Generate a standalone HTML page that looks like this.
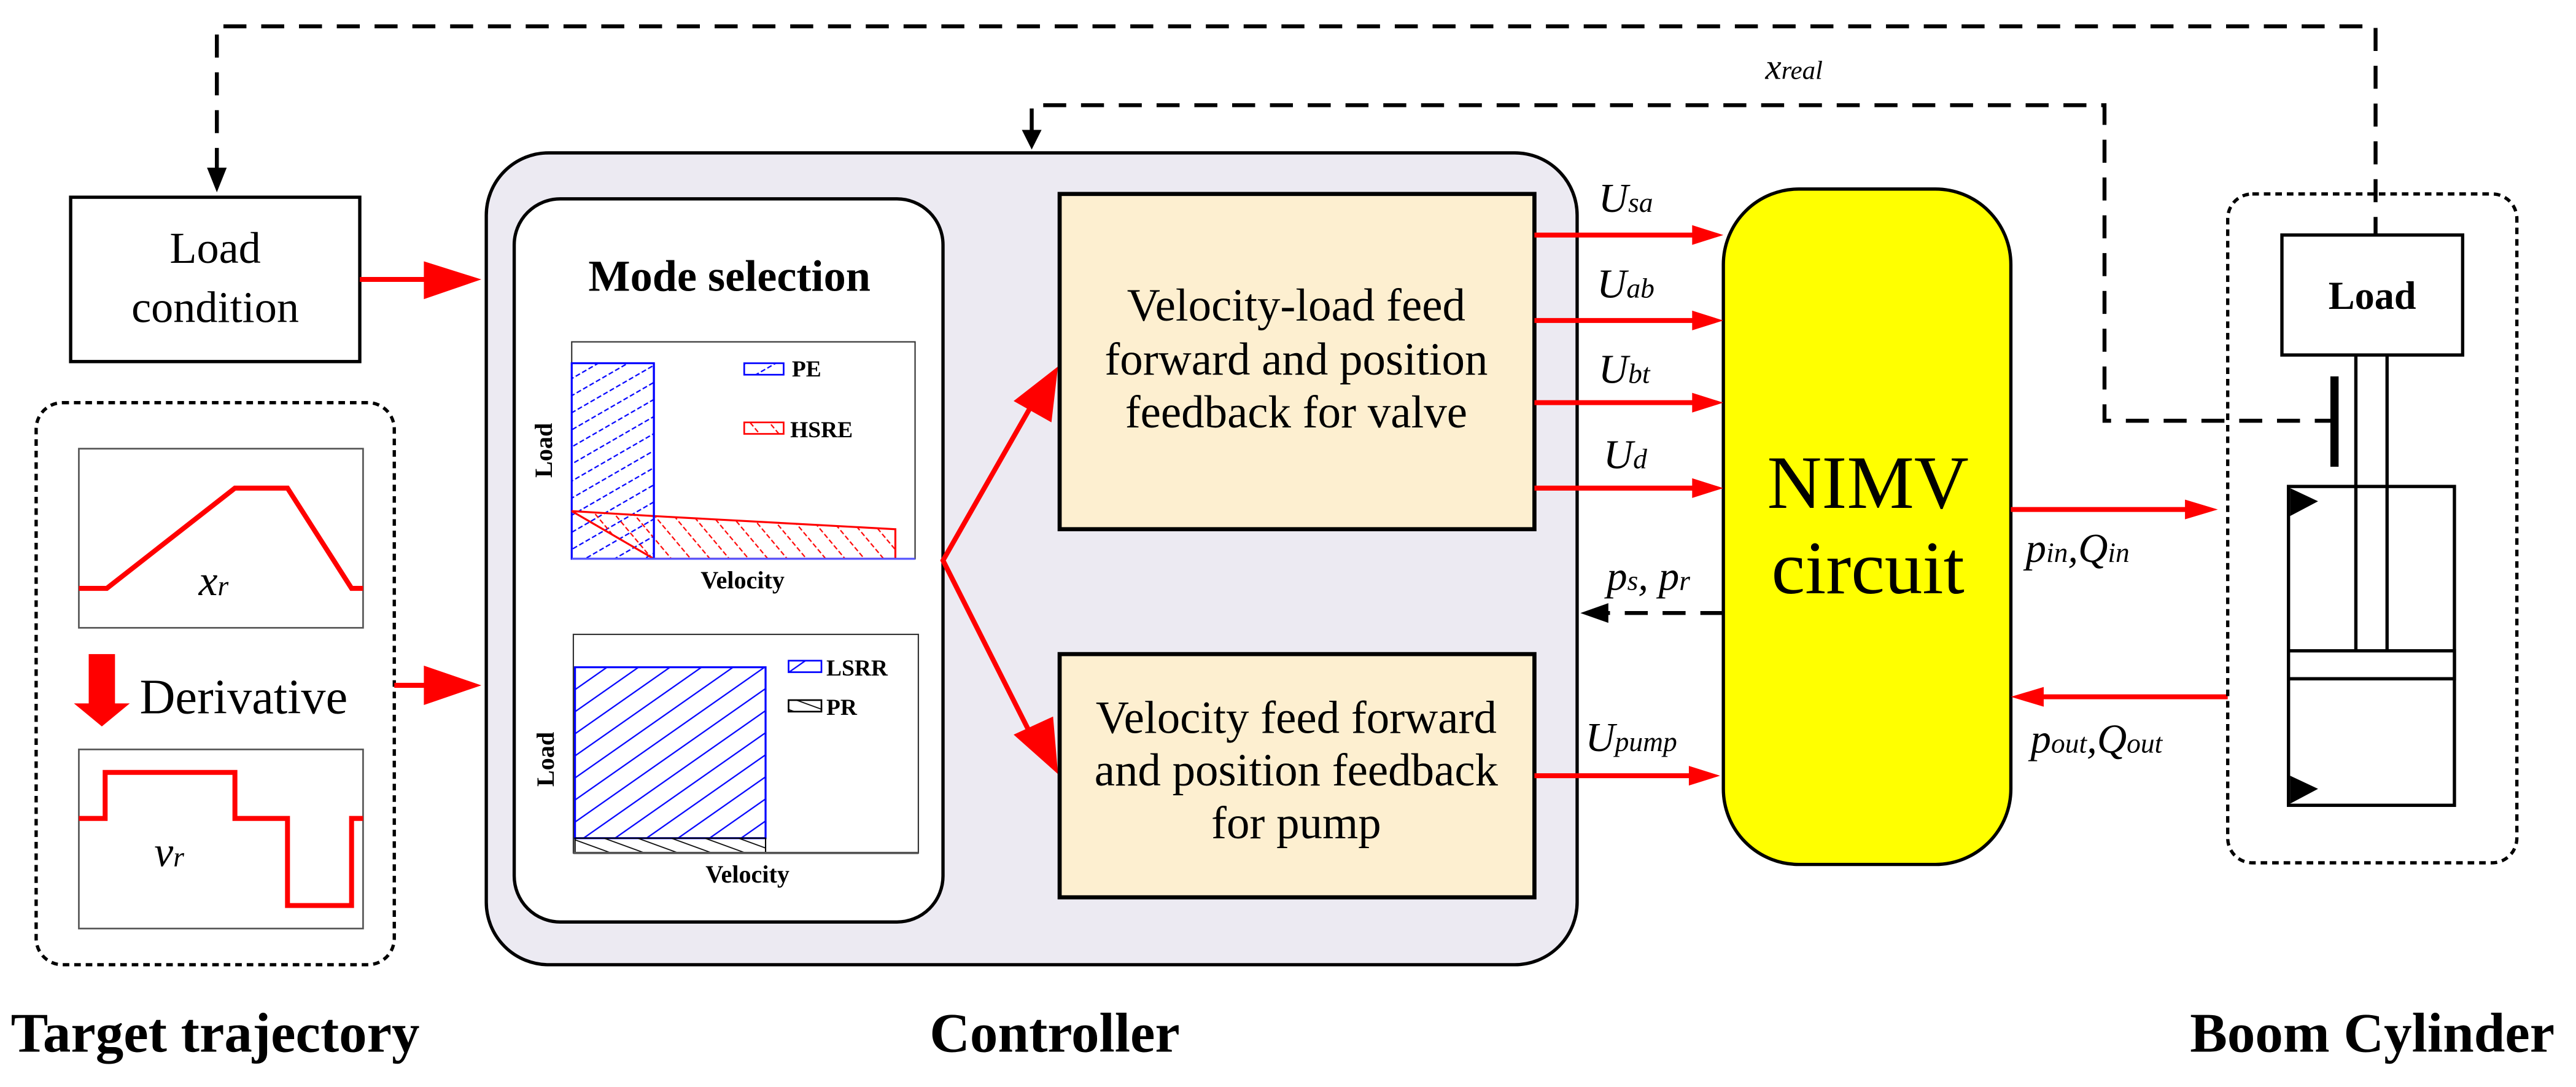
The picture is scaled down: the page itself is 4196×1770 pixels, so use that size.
<!DOCTYPE html>
<html><head><meta charset="utf-8"><style>
html,body{margin:0;padding:0;background:#fff;overflow:hidden;}
svg{display:block;}
svg text{font-family:"Liberation Serif","DejaVu Serif",serif;}
</style></head><body>
<svg width="4196" height="1770" viewBox="0 0 1568 661.4" xmlns="http://www.w3.org/2000/svg" font-family="Liberation Serif, serif">
<defs>
<pattern id="hb" width="9" height="9" patternUnits="userSpaceOnUse" patternTransform="rotate(-30)"><line x1="0" y1="4.5" x2="9" y2="4.5" stroke="#0000ff" stroke-width="0.8" stroke-dasharray="3 1.5"/></pattern>
<pattern id="hr" width="9" height="9" patternUnits="userSpaceOnUse" patternTransform="rotate(-40)"><line x1="4.5" y1="0" x2="4.5" y2="9" stroke="#ff0000" stroke-width="0.8" stroke-dasharray="3 1.5"/></pattern>
<pattern id="hb2" width="11" height="11" patternUnits="userSpaceOnUse" patternTransform="rotate(-35)"><line x1="0" y1="5.5" x2="11" y2="5.5" stroke="#0000ff" stroke-width="0.8"/></pattern>
<pattern id="hk" width="7" height="7" patternUnits="userSpaceOnUse" patternTransform="rotate(20)"><line x1="0" y1="3.5" x2="7" y2="3.5" stroke="#000" stroke-width="0.6"/></pattern>
</defs>

<g fill="none" stroke="#000" stroke-width="2.4" stroke-dasharray="14 9">
<polyline points="132,104 132,16 1446,16 1446,143"/>
<polyline points="628,80 628,64 1281,64 1281,256 1421,256"/>
</g>
<polygon points="126,102 138,102 132,117" fill="#000"/>
<polygon points="622,79 634,79 628,91" fill="#000"/>
<text x="1092" y="48" font-size="22" font-style="italic" text-anchor="middle">x<tspan font-size="16">real</tspan></text>

<rect x="43" y="120" width="176" height="100" fill="#fff" stroke="#000" stroke-width="2"/>
<text x="131" y="160" font-size="27" text-anchor="middle">Load</text>
<text x="131" y="196" font-size="27" text-anchor="middle">condition</text>
<line x1="219" y1="170" x2="262" y2="170" stroke="#f00" stroke-width="3"/>
<polygon points="258,159 293,170 258,182" fill="#f00"/>

<rect x="22" y="245" width="218" height="342" rx="16" fill="none" stroke="#000" stroke-width="2" stroke-dasharray="4 3"/>
<rect x="48" y="273" width="173" height="109" fill="#fff" stroke="#555" stroke-width="1"/>
<polyline points="48,358 65,358 143,297 175,297 214,358 221,358" fill="none" stroke="#f00" stroke-width="3"/>
<text x="130" y="362" font-size="26" font-style="italic" text-anchor="middle">x<tspan font-size="17">r</tspan></text>
<rect x="54" y="398" width="16" height="31" fill="#f00"/>
<polygon points="45,428 79,428 62,442" fill="#f00"/>
<text x="85" y="434" font-size="30">Derivative</text>
<rect x="48" y="456" width="173" height="109" fill="#fff" stroke="#555" stroke-width="1"/>
<polyline points="48,498 64,498 64,470 143,470 143,498 175,498 175,551 214,551 214,498 221,498" fill="none" stroke="#f00" stroke-width="3"/>
<text x="103" y="527" font-size="26" font-style="italic" text-anchor="middle">v<tspan font-size="17">r</tspan></text>
<line x1="240" y1="417" x2="262" y2="417" stroke="#f00" stroke-width="3"/>
<polygon points="258,405 293,417 258,429" fill="#f00"/>

<rect x="296" y="93" width="664" height="494" rx="38" fill="#eceaf2" stroke="#000" stroke-width="2"/>
<rect x="313" y="121" width="261" height="440" rx="28" fill="#fff" stroke="#000" stroke-width="2"/>
<text x="444" y="177" font-size="27" font-weight="bold" text-anchor="middle">Mode selection</text>

<rect x="348" y="208" width="209" height="132" fill="#fff" stroke="#333" stroke-width="0.8"/>
<rect x="348" y="221" width="50" height="119" fill="url(#hb)" stroke="#0000ff" stroke-width="1.2"/>
<polygon points="348,311 398,314 545,322 545,340 398,340" fill="url(#hr)" stroke="#ff0000" stroke-width="1.2"/>
<line x1="398" y1="221" x2="398" y2="340" stroke="#0000ff" stroke-width="1.2"/>
<line x1="348" y1="340" x2="557" y2="340" stroke="#5555ff" stroke-width="1.2"/>
<rect x="453" y="221" width="24" height="7" fill="url(#hb)" stroke="#0000ff" stroke-width="1"/>
<text x="482" y="229" font-size="14" font-weight="bold">PE</text>
<rect x="453" y="257" width="24" height="7" fill="url(#hr)" stroke="#ff0000" stroke-width="1"/>
<text x="481" y="266" font-size="14" font-weight="bold">HSRE</text>
<text transform="translate(336,274) rotate(-90)" font-size="15" font-weight="bold" text-anchor="middle">Load</text>
<text x="452" y="358" font-size="15" font-weight="bold" text-anchor="middle">Velocity</text>

<rect x="349" y="386" width="210" height="133" fill="#fff" stroke="#333" stroke-width="0.8"/>
<rect x="350" y="406" width="116" height="104" fill="url(#hb2)" stroke="#0000ff" stroke-width="1.2"/>
<rect x="350" y="510" width="116" height="9" fill="url(#hk)" stroke="#000" stroke-width="0.8"/>
<line x1="349" y1="519" x2="559" y2="519" stroke="#555" stroke-width="1.4"/>
<rect x="480" y="402" width="20" height="7" fill="url(#hb2)" stroke="#0000ff" stroke-width="1"/>
<text x="503" y="411" font-size="14" font-weight="bold">LSRR</text>
<rect x="480" y="426" width="20" height="7" fill="url(#hk)" stroke="#000" stroke-width="1"/>
<text x="503" y="435" font-size="14" font-weight="bold">PR</text>
<text transform="translate(337,462) rotate(-90)" font-size="15" font-weight="bold" text-anchor="middle">Load</text>
<text x="455" y="537" font-size="15" font-weight="bold" text-anchor="middle">Velocity</text>

<polyline points="630,243 574,341 630,452" fill="none" stroke="#f00" stroke-width="3"/>
<polygon points="644,223 640,257 617,244" fill="#f00"/>
<polygon points="644,471 617,447 641,436" fill="#f00"/>

<rect x="645" y="118" width="289" height="204" fill="#fdefd0" stroke="#000" stroke-width="2.5"/>
<text x="789" y="195" font-size="28" text-anchor="middle">Velocity-load feed</text>
<text x="789" y="228" font-size="28" text-anchor="middle">forward and position</text>
<text x="789" y="260" font-size="28" text-anchor="middle">feedback for valve</text>
<rect x="645" y="398" width="289" height="148" fill="#fdefd0" stroke="#000" stroke-width="2.5"/>
<text x="789" y="446" font-size="28" text-anchor="middle">Velocity feed forward</text>
<text x="789" y="478" font-size="28" text-anchor="middle">and position feedback</text>
<text x="789" y="510" font-size="28" text-anchor="middle">for pump</text>

<rect x="1049" y="115" width="175" height="411" rx="46" fill="#ffff00" stroke="#000" stroke-width="2"/>
<text x="1137" y="309" font-size="46" text-anchor="middle">NIMV</text>
<text x="1137" y="361" font-size="46" text-anchor="middle">circuit</text>

<g stroke="#f00" stroke-width="3">
<line x1="934" y1="143" x2="1036" y2="143"/>
<line x1="934" y1="195" x2="1036" y2="195"/>
<line x1="934" y1="245" x2="1036" y2="245"/>
<line x1="934" y1="297" x2="1036" y2="297"/>
<line x1="934" y1="472" x2="1034" y2="472"/>
<line x1="1224" y1="310" x2="1336" y2="310"/>
<line x1="1356" y1="424" x2="1240" y2="424"/>
</g>
<g fill="#f00">
<polygon points="1030,137 1049,143 1030,149"/>
<polygon points="1030,189 1049,195 1030,201"/>
<polygon points="1030,239 1049,245 1030,251"/>
<polygon points="1030,291 1049,297 1030,303"/>
<polygon points="1028,466 1047,472 1028,478"/>
<polygon points="1330,304 1350,310 1330,316"/>
<polygon points="1244,418 1224,424 1244,430"/>
</g>
<g font-size="25" font-style="italic">
<text x="973" y="129">U<tspan font-size="17">sa</tspan></text>
<text x="972" y="181">U<tspan font-size="17">ab</tspan></text>
<text x="973" y="233">U<tspan font-size="17">bt</tspan></text>
<text x="976" y="285">U<tspan font-size="17">d</tspan></text>
<text x="965" y="457">U<tspan font-size="17">pump</tspan></text>
<text x="978" y="359">p<tspan font-size="17">s</tspan>, p<tspan font-size="17">r</tspan></text>
<text x="1233" y="342">p<tspan font-size="17">in</tspan>,Q<tspan font-size="17">in</tspan></text>
<text x="1236" y="458">p<tspan font-size="17">out</tspan>,Q<tspan font-size="17">out</tspan></text>
</g>
<line x1="1049" y1="373" x2="975" y2="373" stroke="#000" stroke-width="2.4" stroke-dasharray="14 9"/>
<polygon points="979,367 962,373 979,379" fill="#000"/>

<rect x="1356" y="118" width="176" height="407" rx="15" fill="none" stroke="#000" stroke-width="2" stroke-dasharray="4 3"/>
<rect x="1389" y="143" width="110" height="73" fill="#fff" stroke="#000" stroke-width="2"/>
<text x="1444" y="188" font-size="24" font-weight="bold" text-anchor="middle">Load</text>
<rect x="1393" y="296" width="101" height="194" fill="#fff" stroke="#000" stroke-width="2"/>
<line x1="1434" y1="216" x2="1434" y2="396" stroke="#000" stroke-width="2"/>
<line x1="1453" y1="216" x2="1453" y2="396" stroke="#000" stroke-width="2"/>
<rect x="1393" y="396" width="101" height="17" fill="#fff" stroke="#000" stroke-width="2"/>
<polygon points="1394,297 1394,314 1411,305" fill="#000"/>
<polygon points="1394,472 1394,489 1411,480" fill="#000"/>
<line x1="1421" y1="229" x2="1421" y2="284" stroke="#000" stroke-width="5"/>

<g font-size="34" font-weight="bold" text-anchor="middle">
<text x="131" y="640">Target trajectory</text>
<text x="642" y="640">Controller</text>
<text x="1444" y="640">Boom Cylinder</text>
</g>
</svg>
</body></html>
